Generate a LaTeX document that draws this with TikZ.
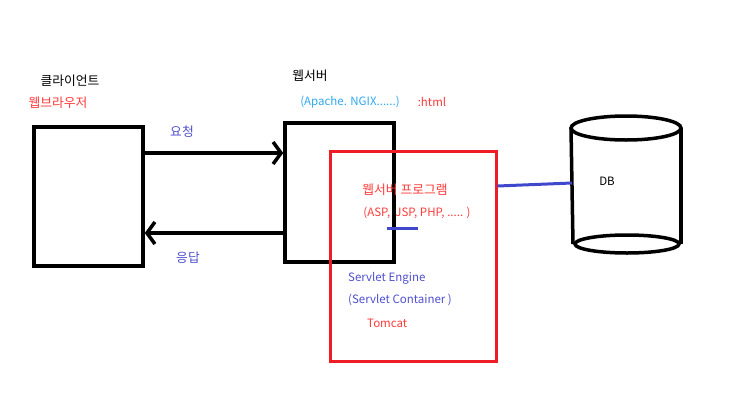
\documentclass[tikz,border=0pt]{standalone}
\usepackage{fontspec}
\setmainfont{Noto Sans CJK KR}
\usetikzlibrary{arrows.meta}
\definecolor{pred}{HTML}{EE1C24}
\definecolor{tred}{HTML}{FF3B3B}
\definecolor{tblue}{HTML}{4F4FD0}
\definecolor{lblue}{HTML}{2EA8F0}
\definecolor{pblue}{HTML}{3F48CC}
\tikzset{
  blk/.style={draw=black, line width=3.5pt},
  redbox/.style={draw=pred, line width=3pt},
  conn/.style={line width=3.5pt, -{Straight Barb[length=8pt,width=22pt,line width=3.5pt]}},
  bline/.style={draw=pblue, line width=3pt},
  lbl/.style={inner sep=0pt, font=\fontsize{11.5}{13}\selectfont},
  klbl/.style={inner sep=0pt, font=\fontsize{12.8}{14}\selectfont},
}
\begin{document}
\begin{tikzpicture}[x=1pt,y=-1pt]
\useasboundingbox (0,0) rectangle (740,416);
% client box
\node[blk, minimum width=109pt, minimum height=139pt, inner sep=0pt] (client) at (88.5,196.5) {};
% web server box
\node[blk, minimum width=109pt, minimum height=139pt, inner sep=0pt] (ws) at (339.5,192.5) {};
% red box
\node[redbox, minimum width=166pt, minimum height=210pt, inner sep=0pt] (was) at (413,256) {};
% arrows
\coordinate (reqs) at (client.east |- 0,153);
\coordinate (reqe) at (ws.west |- 0,153);
\draw[conn] (reqs) -- (reqe);
\coordinate (ress) at (ws.west |- 0,233);
\coordinate (rese) at (client.east |- 0,233);
\draw[conn] (ress) -- (rese);
% labels
\node[klbl] (lclient) at (70,81) {클라이언트};
\node[klbl, text=tred] (lbrowser) at (58,103) {웹브라우저};
\node[klbl, text=tblue] (lreq) at (182,132) {요청};
\node[klbl, text=tblue] (lres) at (188,258) {응답};
\node[klbl] (lws) at (310,76) {웹서버};
\node[lbl, text=lblue] (lapache) at (350,102) {(Apache. NGIX......)};
\node[lbl, text=tred] (lhtml) at (432,102) {:html};
\node[klbl, text=tred] (lwsp) at (405,190) {웹서버 프로그램};
\node[lbl, text=tred] (lasp) at (417,213) {(ASP,\ \ JSP, PHP, ..... )};
\node[lbl, text=tblue, anchor=west] (lse) at (348,278) {Servlet Engine};
\node[lbl, text=tblue, anchor=west] (lsc) at (348,300) {(Servlet Container )};
\node[lbl, text=tred, anchor=west] (ltom) at (367,323) {Tomcat};
% blue short line
\coordinate (bs1) at (387,228);
\coordinate (bs2) at (418,228);
\draw[bline] (bs1) -- (bs2);
% DB cylinder
\coordinate (dbtl) at (571,128);
\coordinate (dbtr) at (681,128);
\coordinate (dbbl) at (573,244);
\coordinate (dbbr) at (681,244);
\draw[line width=3.5pt] (626,128) ellipse [x radius=55, y radius=12];
\draw[line width=3.5pt] (627,244) ellipse [x radius=52, y radius=9];
\draw[line width=3.5pt] (dbtl) -- (dbbl);
\draw[line width=3.5pt] (dbtr) -- (dbbr);
\node[lbl] (ldb) at (607,181) {DB};
\coordinate (dbl) at (572,183);
\draw[bline] (was.east |- 0,186) -- (dbl);
\end{tikzpicture}
\end{document}
